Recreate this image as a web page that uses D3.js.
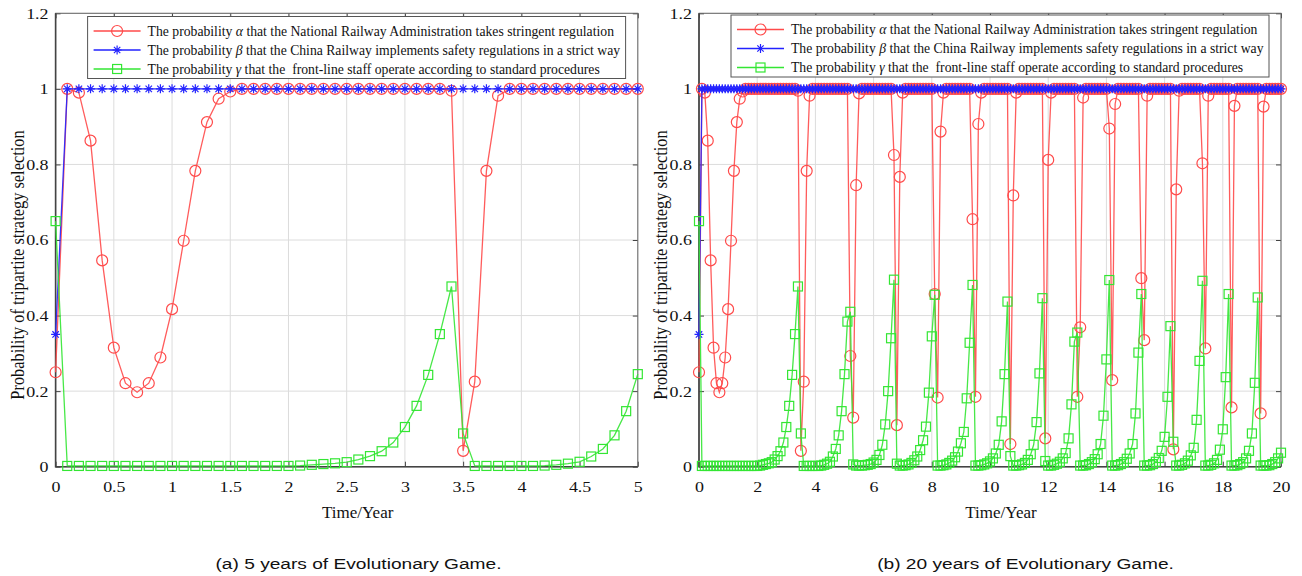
<!DOCTYPE html>
<html>
<head>
<meta charset="utf-8">
<script src="https://cdn.jsdelivr.net/npm/d3@7"></script>
<style>
body { margin: 0; background: #fff; }
svg text { font-family: "Liberation Serif", "Times New Roman", serif; fill: #111; }
.caption { font-family: "Liberation Sans", Arial, sans-serif; }
</style>
</head>
<body>
<svg id="chart" width="1302" height="576"></svg>
<script>
var STEP = 0.1;   // output step of the simulation, in years

// ---- 5 year run, t = 0 .. 5.0 ----
var alpha5 = [
    0.25, 1.0, 0.99, 0.863, 0.546, 0.315, 0.221, 0.197, 0.221, 0.289,
    0.417, 0.598, 0.783, 0.912, 0.974, 0.993, 1, 1, 1, 1,
    1, 1, 1, 1, 1, 1, 1, 1, 1, 1,
    1, 1, 1, 1, 0.995, 0.042, 0.225, 0.783, 0.982, 1,
    1, 1, 1, 1, 1, 1, 1, 1, 1, 1,
    1
];
var beta5 = [
    0.35, 1, 1, 1, 1, 1, 1, 1, 1, 1,
    1, 1, 1, 1, 1, 1, 1, 1, 1, 1,
    1, 1, 1, 1, 1, 1, 1, 1, 1, 1,
    1, 1, 1, 1, 1, 1, 1, 1, 1, 1,
    1, 1, 1, 1, 1, 1, 1, 1, 1, 1,
    1
];
var gamma5 = [
    0.65, 0.002, 0.002, 0.002, 0.002, 0.002, 0.002, 0.002, 0.002, 0.002,
    0.002, 0.002, 0.002, 0.002, 0.002, 0.002, 0.002, 0.002, 0.002, 0.002,
    0.002, 0.003, 0.005, 0.007, 0.009, 0.012, 0.019, 0.028, 0.041, 0.064,
    0.105, 0.161, 0.243, 0.351, 0.477, 0.088, 0.002, 0.002, 0.002, 0.002,
    0.002, 0.002, 0.003, 0.005, 0.008, 0.013, 0.027, 0.047, 0.083, 0.147,
    0.245
];

// ---- 20 year run continues the same run, t = 5.1 .. 20.0 ----
var alpha20Tail = [
    1, 0.293, 0.13, 0.745, 0.988, 1, 1, 1, 1, 1,
    1, 1, 1, 1, 1, 1, 0.825, 0.11, 0.767, 0.99,
    1, 1, 1, 1, 1, 1, 1, 1, 1, 1,
    0.457, 0.183, 0.887, 0.99, 1, 1, 1, 1, 1, 1,
    1, 1, 1, 0.655, 0.185, 0.907, 0.99, 1, 1, 1,
    1, 1, 1, 1, 1, 1, 0.06, 0.718, 0.99, 1,
    1, 1, 1, 1, 1, 1, 1, 1, 0.075, 0.812,
    0.99, 1, 1, 1, 1, 1, 1, 1, 1, 0.185,
    0.369, 0.977, 1, 1, 1, 1, 1, 1, 1, 1,
    0.895, 0.229, 0.96, 1, 1, 1, 1, 1, 1, 1,
    1, 0.499, 0.335, 0.982, 1, 1, 1, 1, 1, 1,
    1, 1, 0.046, 0.734, 0.995, 1, 1, 1, 1, 1,
    1, 1, 0.803, 0.313, 0.982, 1, 1, 1, 1, 1,
    1, 1, 0.157, 0.955, 1, 1, 1, 1, 1, 1,
    1, 1, 0.141, 0.953, 1, 1, 1, 1, 1, 1
];
var beta20Tail = [
    1, 1, 1, 1, 1, 1, 1, 1, 1, 1,
    1, 1, 1, 1, 1, 1, 1, 1, 1, 1,
    1, 1, 1, 1, 1, 1, 1, 1, 1, 1,
    1, 1, 1, 1, 1, 1, 1, 1, 1, 1,
    1, 1, 1, 1, 1, 1, 1, 1, 1, 1,
    1, 1, 1, 1, 1, 1, 1, 1, 1, 1,
    1, 1, 1, 1, 1, 1, 1, 1, 1, 1,
    1, 1, 1, 1, 1, 1, 1, 1, 1, 1,
    1, 1, 1, 1, 1, 1, 1, 1, 1, 1,
    1, 1, 1, 1, 1, 1, 1, 1, 1, 1,
    1, 1, 1, 1, 1, 1, 1, 1, 1, 1,
    1, 1, 1, 1, 1, 1, 1, 1, 1, 1,
    1, 1, 1, 1, 1, 1, 1, 1, 1, 1,
    1, 1, 1, 1, 1, 1, 1, 1, 1, 1,
    1, 1, 1, 1, 1, 1, 1, 1, 1, 1
];
var gamma20Tail = [
    0.384, 0.41, 0.006, 0.003, 0.003, 0.003, 0.004, 0.005, 0.007, 0.011,
    0.018, 0.031, 0.058, 0.112, 0.2, 0.34, 0.495, 0.008, 0.003, 0.003,
    0.004, 0.006, 0.01, 0.017, 0.027, 0.044, 0.07, 0.106, 0.196, 0.345,
    0.455, 0.003, 0.003, 0.004, 0.006, 0.01, 0.016, 0.025, 0.04, 0.062,
    0.092, 0.181, 0.328, 0.481, 0.003, 0.003, 0.004, 0.006, 0.009, 0.014,
    0.022, 0.035, 0.058, 0.12, 0.245, 0.437, 0.028, 0.003, 0.003, 0.004,
    0.006, 0.01, 0.018, 0.033, 0.058, 0.118, 0.247, 0.446, 0.015, 0.003,
    0.003, 0.005, 0.008, 0.013, 0.022, 0.036, 0.075, 0.165, 0.331, 0.355,
    0.003, 0.003, 0.004, 0.007, 0.012, 0.02, 0.033, 0.06, 0.135, 0.284,
    0.494, 0.003, 0.003, 0.004, 0.007, 0.012, 0.021, 0.035, 0.06, 0.141,
    0.302, 0.457, 0.003, 0.003, 0.004, 0.007, 0.013, 0.023, 0.042, 0.079,
    0.185, 0.372, 0.066, 0.003, 0.003, 0.005, 0.009, 0.016, 0.03, 0.05,
    0.124, 0.28, 0.492, 0.003, 0.003, 0.005, 0.009, 0.018, 0.045, 0.099,
    0.237, 0.457, 0.003, 0.003, 0.004, 0.007, 0.012, 0.022, 0.042, 0.088,
    0.222, 0.448, 0.003, 0.003, 0.003, 0.004, 0.007, 0.012, 0.022, 0.037
];

var xTicks5 = [0, 0.5, 1, 1.5, 2, 2.5, 3, 3.5, 4, 4.5, 5];
var xTicks20 = [0, 2, 4, 6, 8, 10, 12, 14, 16, 18, 20];
var yTicks = [0, 0.2, 0.4, 0.6, 0.8, 1, 1.2];

var legendLabels = [
    ["The probability ", "\u03b1", " that the National Railway Administration takes stringent regulation"],
    ["The probability ", "\u03b2", " that the China Railway implements safety regulations in a strict way"],
    ["The probability ", "\u03b3", " that the  front-line staff operate according to standard procedures"]
];
var yTitle = "Probability of tripartite strategy selection";
var xTitle = "Time/Year";
var captions = ["(a) 5 years of Evolutionary Game.", "(b) 20 years of Evolutionary Game."];

var colors = ["#ff4a4a", "#2222ff", "#33e633"];
var markers = ["circle", "star", "square"];

var svg = d3.select("#chart");

function drawMarker(sel, type, color) {
    if (type === "circle") {
        sel.append("circle").attr("r", 5.5)
            .attr("fill", "none").attr("stroke", color).attr("stroke-width", 1.2);
    } else if (type === "square") {
        sel.append("rect").attr("x", -4.5).attr("y", -4.5)
            .attr("width", 9).attr("height", 9)
            .attr("fill", "none").attr("stroke", color).attr("stroke-width", 1.2);
    } else {
        var r = 4.5, d = 3.2;
        sel.append("path")
            .attr("d", "M" + (-r) + ",0L" + r + ",0M0," + (-r) + "L0," + r +
                "M" + (-d) + "," + (-d) + "L" + d + "," + d +
                "M" + (-d) + "," + d + "L" + d + "," + (-d))
            .attr("stroke", color).attr("stroke-width", 1.2);
    }
}

function drawPanel(cfg) {
    var g = svg.append("g");
    var x = d3.scaleLinear().domain([0, cfg.xMax]).range([cfg.left, cfg.right]);
    var y = d3.scaleLinear().domain([0, 1.2]).range([466.7, 13.3]);

    // grid
    g.append("g").selectAll("line.gx").data(cfg.xTicks).enter().append("line")
        .attr("x1", function(d) { return x(d); }).attr("x2", function(d) { return x(d); })
        .attr("y1", y(0)).attr("y2", y(1.2))
        .attr("stroke", "#dcdcdc").attr("stroke-width", 1);
    g.append("g").selectAll("line.gy").data(yTicks).enter().append("line")
        .attr("x1", x(0)).attr("x2", x(cfg.xMax))
        .attr("y1", function(d) { return y(d); }).attr("y2", function(d) { return y(d); })
        .attr("stroke", "#dcdcdc").attr("stroke-width", 1);

    // axes, ticks pointing inwards on all four sides
    var ax = [
        g.append("g").attr("transform", "translate(0," + y(0) + ")")
            .call(d3.axisBottom(x).tickValues(cfg.xTicks).tickSize(-5).tickPadding(14.3).tickFormat(String)),
        g.append("g").attr("transform", "translate(0," + y(1.2) + ")")
            .call(d3.axisTop(x).tickValues(cfg.xTicks).tickSize(-5).tickFormat("")),
        g.append("g").attr("transform", "translate(" + x(0) + ",0)")
            .call(d3.axisLeft(y).tickValues(yTicks).tickSize(-5).tickPadding(6).tickFormat(String)),
        g.append("g").attr("transform", "translate(" + x(cfg.xMax) + ",0)")
            .call(d3.axisRight(y).tickValues(yTicks).tickSize(-5).tickFormat(""))
    ];
    ax.forEach(function(a) {
        a.select(".domain").remove();
        a.selectAll(".tick line").attr("stroke", "#444");
        // the source picture is stretched sideways, so are its labels
        a.selectAll("text").attr("font-size", 15.2).attr("fill", "#111")
            .attr("transform", "scale(1.18,1)")
            .style("font-family", '"Liberation Serif", serif');
    });

    g.append("rect")
        .attr("x", x(0)).attr("y", y(1.2))
        .attr("width", x(cfg.xMax) - x(0)).attr("height", y(0) - y(1.2))
        .attr("fill", "none").attr("stroke", "#666").attr("stroke-width", 1);
    g.append("path")
        .attr("d", "M" + x(0) + "," + y(1.2) + "V" + y(0) + "H" + x(cfg.xMax))
        .attr("fill", "none").attr("stroke", "#444").attr("stroke-width", 1.6);

    // series
    var line = d3.line()
        .x(function(d, i) { return x(i * STEP); })
        .y(function(d) { return y(d); });
    cfg.series.forEach(function(s, k) {
        var sg = g.append("g");
        sg.append("path").datum(s).attr("d", line)
            .attr("fill", "none").attr("stroke", colors[k]).attr("stroke-width", 1.3)
            .attr("stroke-opacity", 0.9);
        sg.selectAll("g.m").data(s).enter().append("g")
            .attr("transform", function(d, i) { return "translate(" + x(i * STEP) + "," + y(d) + ")"; })
            .each(function() { drawMarker(d3.select(this), markers[k], colors[k]); });
    });

    // legend
    var lg = g.append("g").attr("transform", "translate(" + (cfg.left + 32) + "," + cfg.legendTop + ")");
    lg.append("rect").attr("width", 538).attr("height", 62)
        .attr("fill", "#fff").attr("stroke", "#555").attr("stroke-width", 1);
    legendLabels.forEach(function(parts, k) {
        var ry = 14.5 + k * 19;
        lg.append("line").attr("x1", 6).attr("x2", 53).attr("y1", ry).attr("y2", ry)
            .attr("stroke", colors[k]).attr("stroke-width", 1.3);
        drawMarker(lg.append("g").attr("transform", "translate(29.5," + ry + ")"), markers[k], colors[k]);
        var t = lg.append("text").attr("x", 60).attr("y", ry + 4.5)
            .attr("font-size", 13.7).style("white-space", "pre");
        t.append("tspan").text(parts[0]);
        t.append("tspan").attr("font-style", "italic").text(parts[1]);
        t.append("tspan").text(parts[2]);
    });

    // titles
    g.append("text").attr("transform", "translate(" + cfg.yTitleX + ",265) rotate(-90) scale(1,1.15)")
        .attr("text-anchor", "middle").attr("font-size", 16.4).text(yTitle);
    g.append("text").attr("x", (cfg.left + cfg.right) / 2 + 11).attr("y", 518)
        .attr("text-anchor", "middle").attr("font-size", 17).text(xTitle);
    g.append("text").attr("class", "caption")
        .attr("transform", "translate(" + cfg.captionX + ",569) scale(1.235,1)")
        .attr("text-anchor", "middle").attr("font-size", 15.5).text(cfg.caption);
}

drawPanel({
    left: 55.6, right: 637.8, xMax: 5, xTicks: xTicks5,
    series: [alpha5, beta5, gamma5],
    legendTop: 16.5, yTitleX: 24, captionX: 358.5, caption: captions[0]
});
drawPanel({
    left: 699, right: 1281, xMax: 20, xTicks: xTicks20,
    series: [alpha5.concat(alpha20Tail), beta5.concat(beta20Tail), gamma5.concat(gamma20Tail)],
    legendTop: 15, yTitleX: 667, captionX: 1025.5, caption: captions[1]
});
</script>
</body>
</html>
